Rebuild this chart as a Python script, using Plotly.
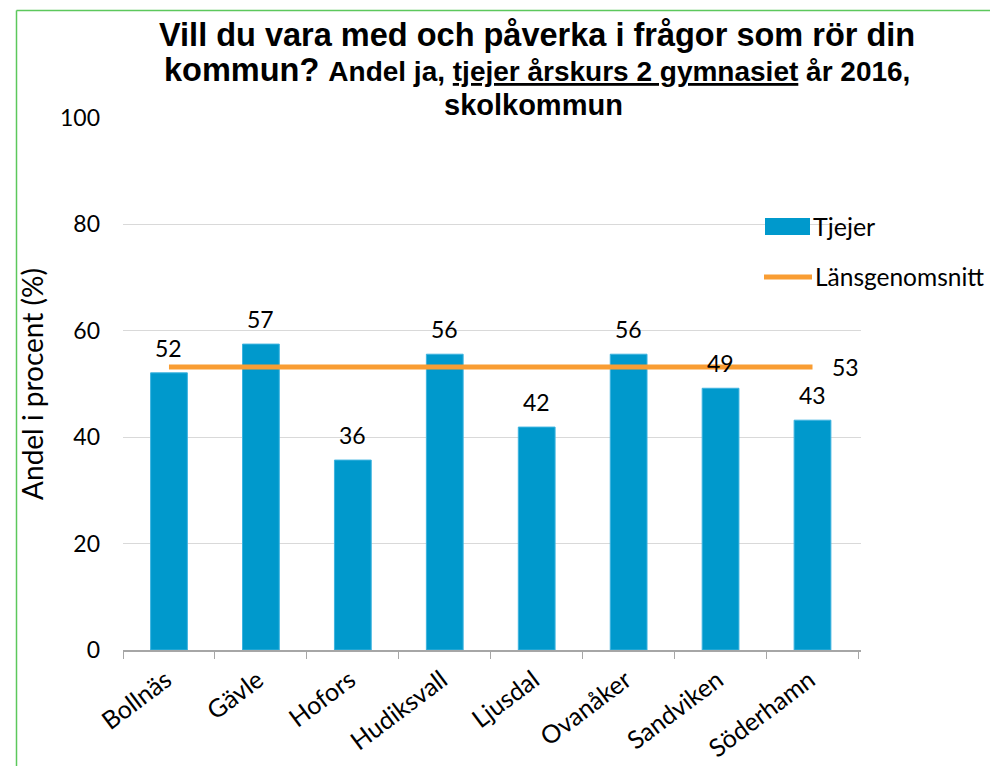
import plotly.graph_objects as go

categories = ["Bollnäs", "Gävle", "Hofors", "Hudiksvall", "Ljusdal", "Ovanåker", "Sandviken", "Söderhamn"]
tjejer = [52.1, 57.5, 35.7, 55.6, 41.9, 55.6, 49.2, 43.2]
tjejer_labels = ["52", "57", "36", "56", "42", "56", "49", "43"]
lansgenomsnitt = 53.2
lansgenomsnitt_label = "53"
y_ticks = [0, 20, 40, 60, 80, 100]

OFF = 8  # default page body margin
W, H = 998 - OFF, 766 - OFF
# plot area in page pixels: x 123..861, y 118..650
L, R, T, B = 123 - OFF, W - (861 - OFF), 118 - OFF, H - (650 - OFF)
PW, PH = W - L - R, H - T - B

def px_x(px):  # page pixel -> paper x
    return (px - OFF - L) / PW

def px_y(py):  # page pixel -> paper y
    return (H - B - (py - OFF)) / PH

BAR = "#0099CC"
ORANGE = "#F99D33"
FONT = "Lato"
TFONT = "Liberation Sans"

fig = go.Figure()
fig.add_trace(go.Bar(
    x=categories, y=tjejer, name="Tjejer", width=0.4,
    marker=dict(color=BAR, line=dict(color="#3DB3DF", width=1)),
    showlegend=False,
))
fig.add_trace(go.Scatter(
    x=categories, y=[lansgenomsnitt] * len(categories), name="Länsgenomsnitt",
    mode="lines", line=dict(color=ORANGE, width=5), showlegend=False,
))

annotations = []
for c, v, t in zip(categories, tjejer, tjejer_labels):
    annotations.append(dict(x=c, y=v, text=t, showarrow=False, yshift=25,
                            font=dict(family=FONT, size=23, color="#000")))
annotations.append(dict(x=categories[-1], y=lansgenomsnitt, text=lansgenomsnitt_label,
                        showarrow=False, xshift=33,
                        font=dict(family=FONT, size=23, color="#000")))

# title lines
annotations.append(dict(xref="paper", yref="paper", x=px_x(537), y=px_y(35), xanchor="center",
                        yanchor="middle", showarrow=False,
                        text="<b>Vill du vara med och påverka i frågor som rör din</b>",
                        font=dict(family=TFONT, size=32.5, color="#000")))
annotations.append(dict(xref="paper", yref="paper", x=px_x(537), y=px_y(70), xanchor="center",
                        yanchor="middle", showarrow=False,
                        text="<b>kommun? <span style='font-size:28px'>Andel ja, <u>tjejer årskurs 2 gymnasiet</u> år 2016,</span></b>",
                        font=dict(family=TFONT, size=32.5, color="#000")))
annotations.append(dict(xref="paper", yref="paper", x=px_x(533), y=px_y(105), xanchor="center",
                        yanchor="middle", showarrow=False,
                        text="<b>skolkommun</b>",
                        font=dict(family=TFONT, size=29, color="#000")))

# legend (manual)
shapes = [
    dict(type="rect", xref="paper", yref="paper", x0=px_x(765), x1=px_x(810),
         y0=px_y(235), y1=px_y(218), fillcolor=BAR, line=dict(width=0), layer="above"),
    dict(type="line", xref="paper", yref="paper", x0=px_x(764), x1=px_x(812),
         y0=px_y(277), y1=px_y(277), line=dict(color=ORANGE, width=5), layer="above"),
    # green border
    dict(type="line", xref="paper", yref="paper", x0=px_x(16.5), x1=px_x(1010),
         y0=px_y(10.5), y1=px_y(10.5), line=dict(color="#5CC85C", width=1.5)),
    dict(type="line", xref="paper", yref="paper", x0=px_x(16.5), x1=px_x(16.5),
         y0=px_y(10.5), y1=px_y(780), line=dict(color="#5CC85C", width=1.5)),
]
annotations.append(dict(xref="paper", yref="paper", x=px_x(811), y=px_y(226), text="Tjejer",
                        xanchor="left", yanchor="middle", showarrow=False,
                        font=dict(family=FONT, size=25, color="#000")))
annotations.append(dict(xref="paper", yref="paper", x=px_x(813), y=px_y(276), text="Länsgenomsnitt",
                        xanchor="left", yanchor="middle", showarrow=False,
                        font=dict(family=FONT, size=24.5, color="#000")))

fig.update_layout(
    width=W, height=H,
    margin=dict(l=L, r=R, t=T, b=B, autoexpand=False),
    paper_bgcolor="white", plot_bgcolor="white",
    showlegend=False,
    annotations=annotations,
    shapes=shapes,
    xaxis=dict(
        tickangle=-37, tickfont=dict(family=FONT, size=25, color="#000"),
        showline=True, linecolor="#A6A6A6", linewidth=1.5,
        ticks="outside", tickson="boundaries", ticklen=7, tickcolor="#A6A6A6",
        showgrid=False, ticklabelshift=-3, ticklabelstandoff=4,
    ),
    yaxis=dict(
        range=[0, 100], tickvals=y_ticks, showgrid=True, gridcolor="#D9D9D9", gridwidth=1,
        zeroline=False, showline=False, ticks="", ticklabelstandoff=22,
        tickfont=dict(family=FONT, size=23, color="#000"),
        title=dict(text="Andel i procent (%)", standoff=8,
                   font=dict(family=FONT, size=28, color="#000")),
    ),
)

fig.write_html("out.html")
